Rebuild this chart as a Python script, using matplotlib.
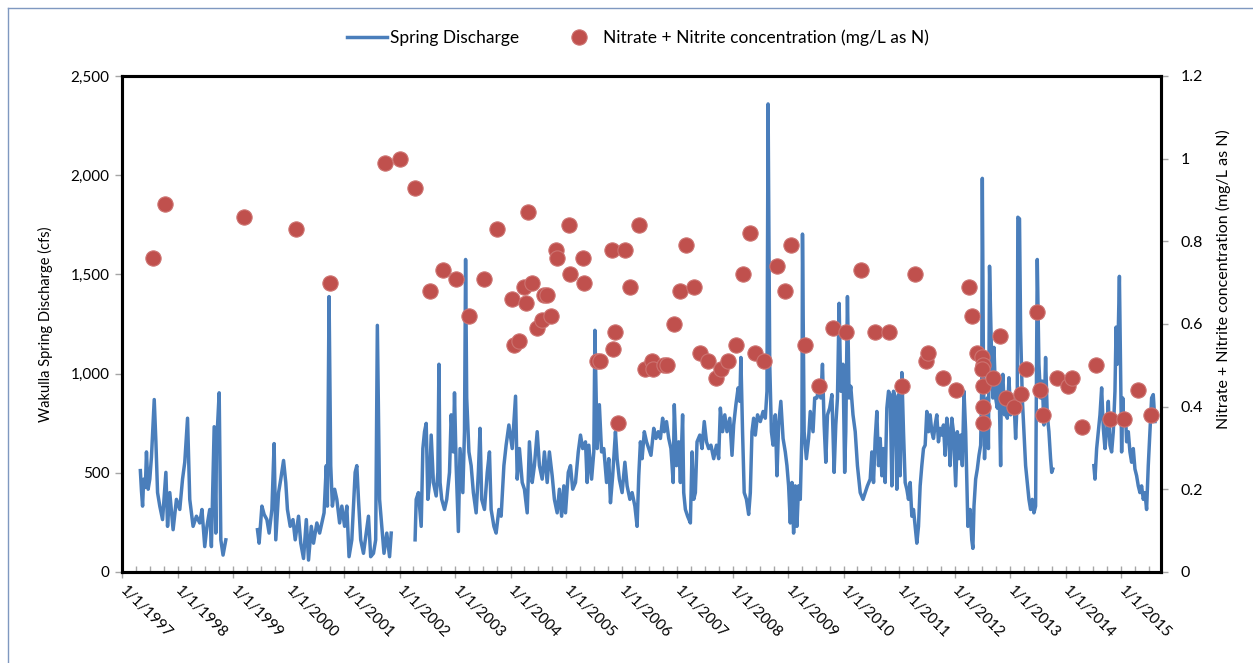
import numpy as np
import matplotlib.pyplot as plt
from matplotlib.ticker import MultipleLocator, FuncFormatter
from matplotlib.lines import Line2D

plt.rcParams['font.family'] = ['Lato', 'DejaVu Sans']

# Wakulla Spring discharge as (decimal year, cfs).
# The record has gaps, so it is kept in separate segments.
q_1997_1998 = [
    (1997.33, 511), (1997.35, 409), (1997.37, 332), (1997.39, 468), (1997.42, 426), (1997.44, 605),
    (1997.47, 417), (1997.50, 468), (1997.53, 580), (1997.58, 869), (1997.61, 656), (1997.64, 400),
    (1997.68, 332), (1997.73, 264), (1997.79, 502), (1997.82, 230), (1997.86, 400), (1997.92, 213),
    (1997.98, 366), (1998.04, 315), (1998.09, 468), (1998.13, 553), (1998.18, 775), (1998.22, 366),
    (1998.28, 230), (1998.34, 281), (1998.40, 247), (1998.44, 315), (1998.49, 128), (1998.53, 230),
    (1998.58, 315), (1998.61, 128), (1998.66, 732), (1998.69, 196), (1998.70, 622), (1998.75, 903),
    (1998.78, 162), (1998.82, 85), (1998.87, 162),
]
q_1999_2001 = [
    (1999.44, 213), (1999.47, 145), (1999.52, 332), (1999.56, 290), (1999.61, 264), (1999.65, 196),
    (1999.70, 315), (1999.74, 647), (1999.77, 162), (1999.82, 400), (1999.86, 468), (1999.91, 562),
    (1999.95, 451), (1999.98, 315), (2000.03, 230), (2000.08, 264), (2000.12, 162), (2000.18, 281),
    (2000.22, 145), (2000.27, 68), (2000.32, 264), (2000.36, 60), (2000.41, 230), (2000.45, 145),
    (2000.51, 247), (2000.56, 196), (2000.60, 247), (2000.64, 298), (2000.68, 536), (2000.70, 332),
    (2000.73, 1388), (2000.76, 536), (2000.79, 332), (2000.83, 417), (2000.87, 366), (2000.92, 247),
    (2000.96, 332), (2001.01, 230), (2001.05, 332), (2001.09, 77), (2001.14, 162), (2001.20, 502),
    (2001.23, 536), (2001.26, 366), (2001.30, 162), (2001.35, 94), (2001.40, 196), (2001.44, 281),
    (2001.48, 77), (2001.53, 94), (2001.57, 162), (2001.60, 1243), (2001.64, 366), (2001.68, 230),
    (2001.72, 94), (2001.77, 196), (2001.82, 77), (2001.85, 196),
]
q_2002_2006 = [
    (2002.28, 162), (2002.30, 366), (2002.34, 400), (2002.39, 230), (2002.42, 622), (2002.45, 707),
    (2002.48, 749), (2002.51, 366), (2002.54, 451), (2002.57, 690), (2002.61, 451), (2002.66, 383),
    (2002.69, 502), (2002.71, 1047), (2002.73, 451), (2002.76, 366), (2002.81, 315), (2002.85, 366),
    (2002.90, 502), (2002.93, 792), (2002.97, 605), (2002.99, 903), (2003.02, 536), (2003.06, 204),
    (2003.09, 622), (2003.14, 400), (2003.17, 707), (2003.19, 1575), (2003.21, 877), (2003.25, 605),
    (2003.29, 536), (2003.33, 400), (2003.38, 298), (2003.42, 502), (2003.45, 724), (2003.48, 366),
    (2003.53, 315), (2003.58, 502), (2003.62, 605), (2003.65, 315), (2003.70, 230), (2003.74, 196),
    (2003.79, 315), (2003.83, 281), (2003.88, 536), (2003.92, 639), (2003.97, 741), (2004.03, 622),
    (2004.09, 886), (2004.12, 468), (2004.16, 622), (2004.21, 451), (2004.25, 417), (2004.30, 298),
    (2004.34, 656), (2004.39, 451), (2004.43, 536), (2004.48, 707), (2004.52, 536), (2004.57, 468),
    (2004.61, 605), (2004.66, 451), (2004.70, 605), (2004.75, 485), (2004.79, 366), (2004.84, 298),
    (2004.88, 417), (2004.92, 281), (2004.96, 434), (2004.99, 298), (2005.04, 502), (2005.08, 536),
    (2005.12, 417), (2005.17, 451), (2005.22, 605), (2005.26, 690), (2005.30, 622), (2005.35, 656),
    (2005.38, 451), (2005.41, 639), (2005.46, 468), (2005.50, 605), (2005.52, 1218), (2005.56, 622),
    (2005.60, 843), (2005.64, 605), (2005.68, 622), (2005.73, 451), (2005.77, 571), (2005.80, 349),
    (2005.84, 485), (2005.89, 707), (2005.92, 571), (2005.96, 468), (2006.01, 400), (2006.06, 553),
    (2006.10, 434), (2006.15, 366), (2006.19, 400), (2006.24, 332), (2006.28, 230), (2006.31, 485),
    (2006.34, 656), (2006.37, 571), (2006.41, 707), (2006.45, 656), (2006.49, 622), (2006.53, 588),
    (2006.58, 724), (2006.62, 673), (2006.66, 707), (2006.70, 673), (2006.74, 775), (2006.77, 707),
    (2006.81, 758), (2006.85, 673), (2006.89, 622), (2006.93, 451),
]
q_2007_2011 = [
    (2006.95, 843), (2006.99, 536), (2007.03, 656), (2007.06, 451), (2007.10, 792), (2007.12, 400),
    (2007.15, 315), (2007.19, 281), (2007.24, 247), (2007.27, 605), (2007.30, 366), (2007.33, 400),
    (2007.36, 656), (2007.41, 690), (2007.45, 622), (2007.49, 758), (2007.53, 656), (2007.57, 622),
    (2007.61, 639), (2007.66, 571), (2007.71, 639), (2007.75, 571), (2007.78, 826), (2007.82, 707),
    (2007.86, 792), (2007.90, 707), (2007.95, 775), (2007.99, 588), (2008.02, 741), (2008.06, 843),
    (2008.10, 928), (2008.13, 860), (2008.15, 1081), (2008.18, 707), (2008.21, 400), (2008.25, 366),
    (2008.29, 290), (2008.32, 400), (2008.35, 707), (2008.38, 775), (2008.41, 690), (2008.45, 792),
    (2008.50, 758), (2008.55, 809), (2008.59, 775), (2008.62, 911), (2008.64, 2359), (2008.67, 1047),
    (2008.70, 707), (2008.73, 639), (2008.77, 792), (2008.80, 485), (2008.83, 741), (2008.87, 860),
    (2008.91, 673), (2008.95, 605), (2008.98, 536), (2009.01, 434), (2009.04, 247), (2009.07, 451),
    (2009.10, 196), (2009.13, 434), (2009.16, 230), (2009.19, 434), (2009.22, 366), (2009.25, 707),
    (2009.26, 1703), (2009.29, 707), (2009.33, 571), (2009.37, 673), (2009.40, 809), (2009.45, 707),
    (2009.48, 877), (2009.52, 877), (2009.55, 928), (2009.59, 877), (2009.62, 1047), (2009.65, 741),
    (2009.68, 553), (2009.71, 792), (2009.75, 826), (2009.79, 894), (2009.83, 502), (2009.86, 741),
    (2009.89, 877), (2009.92, 1354), (2009.95, 911), (2009.99, 1047), (2010.02, 502), (2010.04, 707),
    (2010.07, 1388), (2010.10, 877), (2010.13, 936), (2010.17, 792), (2010.21, 707), (2010.25, 536),
    (2010.30, 400), (2010.35, 366), (2010.39, 400), (2010.43, 434), (2010.48, 468), (2010.51, 605),
    (2010.54, 451), (2010.57, 673), (2010.60, 809), (2010.63, 536), (2010.66, 673), (2010.69, 485),
    (2010.72, 622), (2010.75, 451), (2010.78, 826), (2010.81, 911), (2010.84, 894), (2010.87, 434),
    (2010.90, 911), (2010.93, 877), (2010.96, 417), (2010.99, 894), (2011.02, 485), (2011.05, 1005),
    (2011.08, 707), (2011.11, 451), (2011.14, 417), (2011.17, 366), (2011.20, 451), (2011.23, 281),
    (2011.26, 315), (2011.29, 230), (2011.32, 145), (2011.35, 230), (2011.38, 434), (2011.41, 536),
    (2011.44, 622), (2011.47, 639), (2011.50, 809), (2011.53, 707), (2011.56, 792), (2011.59, 707),
    (2011.62, 673), (2011.65, 741), (2011.68, 792), (2011.71, 656), (2011.74, 724), (2011.77, 690),
    (2011.80, 741), (2011.83, 588), (2011.86, 775), (2011.89, 707), (2011.92, 536), (2011.95, 775),
    (2011.98, 707),
]
q_2012_2013 = [
    (2012.02, 434), (2012.05, 707), (2012.08, 571), (2012.11, 690), (2012.14, 536), (2012.17, 911),
    (2012.20, 707), (2012.24, 230), (2012.28, 315), (2012.31, 162), (2012.33, 119), (2012.35, 332),
    (2012.38, 468), (2012.41, 519), (2012.44, 588), (2012.47, 639), (2012.49, 945), (2012.50, 1984),
    (2012.52, 1047), (2012.54, 571), (2012.56, 792), (2012.59, 877), (2012.61, 622), (2012.63, 1541),
    (2012.65, 1303), (2012.67, 1047), (2012.69, 877), (2012.71, 1132), (2012.74, 877), (2012.77, 826),
    (2012.80, 962), (2012.83, 536), (2012.84, 877), (2012.87, 996), (2012.90, 792), (2012.93, 860),
    (2012.95, 775), (2012.98, 979), (2013.01, 792), (2013.04, 877), (2013.07, 877), (2013.10, 673),
    (2013.13, 877), (2013.14, 1788), (2013.17, 1780), (2013.19, 1218), (2013.22, 877), (2013.25, 707),
    (2013.28, 536), (2013.31, 451), (2013.34, 366), (2013.37, 315), (2013.40, 366), (2013.43, 298),
    (2013.46, 332), (2013.49, 1575), (2013.52, 1047), (2013.55, 877), (2013.58, 962), (2013.61, 741),
    (2013.64, 1081), (2013.67, 792), (2013.70, 707), (2013.73, 571), (2013.75, 502), (2013.77, 519),
]
q_2014_2015 = [
    (2014.51, 536), (2014.53, 468), (2014.56, 622), (2014.59, 707), (2014.62, 792), (2014.65, 928),
    (2014.68, 724), (2014.71, 622), (2014.74, 707), (2014.77, 860), (2014.80, 639), (2014.83, 605),
    (2014.86, 707), (2014.89, 911), (2014.91, 1234), (2014.93, 1047), (2014.95, 1218), (2014.97, 1490),
    (2014.99, 1047), (2015.01, 605), (2015.03, 877), (2015.05, 741), (2015.08, 792), (2015.10, 656),
    (2015.13, 707), (2015.16, 605), (2015.19, 553), (2015.22, 622), (2015.25, 519), (2015.28, 485),
    (2015.31, 434), (2015.34, 400), (2015.37, 434), (2015.40, 366), (2015.43, 400), (2015.46, 315),
    (2015.49, 536), (2015.52, 707), (2015.55, 877), (2015.58, 894), (2015.61, 758),
]

# Nitrate + nitrite samples (decimal year, mg/L as N)
nitrate = [
    (1997.56, 0.76), (1997.77, 0.89), (1999.20, 0.86), (2000.13, 0.83), (2000.75, 0.70), (2001.73, 0.99),
    (2002.00, 1.00), (2002.28, 0.93), (2002.55, 0.68), (2002.78, 0.73), (2003.02, 0.71), (2003.26, 0.62),
    (2003.53, 0.71), (2003.75, 0.83), (2004.03, 0.66), (2004.06, 0.55), (2004.16, 0.56), (2004.24, 0.69),
    (2004.27, 0.65), (2004.31, 0.87), (2004.39, 0.70), (2004.48, 0.59), (2004.57, 0.61), (2004.60, 0.67),
    (2004.66, 0.67), (2004.72, 0.62), (2004.82, 0.78), (2004.84, 0.76), (2005.06, 0.84), (2005.08, 0.72),
    (2005.31, 0.76), (2005.33, 0.70), (2005.56, 0.51), (2005.62, 0.51), (2005.82, 0.78), (2005.84, 0.54),
    (2005.89, 0.58), (2005.94, 0.36), (2006.06, 0.78), (2006.16, 0.69), (2006.31, 0.84), (2006.43, 0.49),
    (2006.55, 0.51), (2006.57, 0.49), (2006.76, 0.50), (2006.82, 0.50), (2006.94, 0.60), (2007.06, 0.68),
    (2007.16, 0.79), (2007.30, 0.69), (2007.41, 0.53), (2007.56, 0.51), (2007.70, 0.47), (2007.79, 0.49),
    (2007.92, 0.51), (2008.06, 0.55), (2008.19, 0.72), (2008.31, 0.82), (2008.41, 0.53), (2008.56, 0.51),
    (2008.80, 0.74), (2008.94, 0.68), (2009.05, 0.79), (2009.30, 0.55), (2009.55, 0.45), (2009.81, 0.59),
    (2010.05, 0.58), (2010.31, 0.73), (2010.56, 0.58), (2010.81, 0.58), (2011.05, 0.45), (2011.29, 0.72),
    (2011.49, 0.51), (2011.52, 0.53), (2011.79, 0.47), (2012.03, 0.44), (2012.26, 0.69), (2012.31, 0.62),
    (2012.41, 0.53), (2012.50, 0.52), (2012.51, 0.50), (2012.50, 0.49), (2012.51, 0.45), (2012.51, 0.40),
    (2012.51, 0.36), (2012.69, 0.47), (2012.81, 0.57), (2012.93, 0.42), (2013.07, 0.40), (2013.19, 0.43),
    (2013.28, 0.49), (2013.48, 0.63), (2013.54, 0.44), (2013.59, 0.38), (2013.84, 0.47), (2014.05, 0.45),
    (2014.11, 0.47), (2014.30, 0.35), (2014.55, 0.50), (2014.80, 0.37), (2015.05, 0.37), (2015.30, 0.44),
    (2015.54, 0.38),
]

tick_years = list(range(1997, 2016))
tick_labels = ['1/1/%d' % y for y in tick_years]

# join the discharge segments, NaN breaks the line at the gaps
segments = [q_1997_1998, q_1999_2001, q_2002_2006 + q_2007_2011 + q_2012_2013, q_2014_2015]
qx, qy = [], []
for seg in segments:
    qx += [p[0] for p in seg] + [np.nan]
    qy += [p[1] for p in seg] + [np.nan]
nx = [p[0] for p in nitrate]
ny = [p[1] for p in nitrate]

blue = '#4A7EBB'
red = '#C0504D'
tick_grey = '#A6A6A6'

fig = plt.figure(figsize=(12.53, 6.63), dpi=100)
ax = fig.add_axes([0.0974, 0.1373, 0.8292, 0.7481])
ln, = ax.plot(qx, qy, color=blue, lw=2.5, solid_joinstyle='round', label='Spring Discharge')

ax2 = ax.twinx()
dots, = ax2.plot(nx, ny, 'o', ms=11, mfc=red, mec='#CD7371', mew=0.8,
                 label='Nitrate + Nitrite concentration (mg/L as N)')

ax.set_xlim(1997, 2015.72)
ax.set_ylim(0, 2500)
ax2.set_ylim(0, 1.2)

ax.set_xticks(tick_years)
ax.set_xticklabels(tick_labels, rotation=-45, ha='left', va='center', rotation_mode='anchor')
ax.xaxis.set_minor_locator(MultipleLocator(0.25))
ax.set_yticks(range(0, 2501, 500))
ax.yaxis.set_major_formatter(FuncFormatter(lambda v, p: f'{int(v):,}'))
ax2.set_yticks([0, 0.2, 0.4, 0.6, 0.8, 1.0, 1.2])
ax2.yaxis.set_major_formatter(FuncFormatter(lambda v, p: '%g' % round(v, 1)))

ax.tick_params(axis='x', which='major', direction='inout', length=8, width=1, color=tick_grey,
               labelsize=11, pad=8)
ax.tick_params(axis='x', which='minor', direction='in', length=4, width=1, color=tick_grey)
ax.tick_params(axis='y', direction='out', length=5, width=1, color=tick_grey, labelsize=11, pad=4)
ax2.tick_params(axis='y', direction='out', length=5, width=1, color=tick_grey, labelsize=11.5, pad=9)

for a in (ax, ax2):
    for s in a.spines.values():
        s.set_linewidth(2.2)
        s.set_color('black')

ax.set_ylabel('Wakulla Spring Discharge (cfs)', fontsize=10.5)
ax.yaxis.set_label_coords(-0.066, 0.5)
ax2.set_ylabel('Nitrate + Nitrite concentration (mg/L as N)', fontsize=11.5)
ax2.yaxis.set_label_coords(1.053, 0.59)

fig.legend(handles=[ln, dots], loc='center', bbox_to_anchor=(0.509, 0.943), ncol=2, frameon=False,
           fontsize=12.5, handlelength=2.3, handletextpad=0.2, columnspacing=2.3)

# chart-area frame
fig.add_artist(Line2D([8 / 1253, 1], [1 - 8 / 663, 1 - 8 / 663], transform=fig.transFigure,
                      color='#7F98C0', lw=1))
fig.add_artist(Line2D([8 / 1253, 8 / 1253], [0, 1 - 8 / 663], transform=fig.transFigure,
                      color='#7F98C0', lw=1))

fig.savefig('out.png', dpi=100)
